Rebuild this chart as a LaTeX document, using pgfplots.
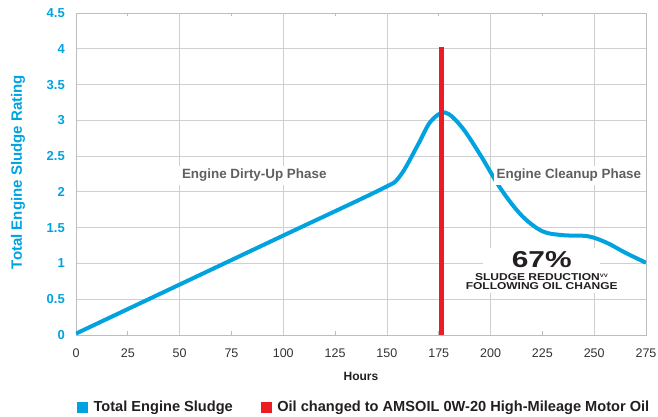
\documentclass[border=0pt]{standalone}
\usepackage{pgfplots}
\pgfplotsset{compat=1.18}
\usepackage{fontspec}
\setmainfont{Liberation Sans}
\definecolor{cyanc}{HTML}{00A3E0}
\definecolor{redc}{HTML}{ED1C24}
\definecolor{gridc}{HTML}{CFCFCF}
\definecolor{axisc}{HTML}{BDBDBD}
\definecolor{phasec}{HTML}{606060}
\definecolor{tickc}{HTML}{333333}
\definecolor{darkc}{HTML}{231F20}
\pgfplotstableread{
x y
0 0.02
50 0.705
100 1.39
146.7 2.03
156 2.21
165 2.66
171 2.98
178 3.11
186 2.91
195 2.52
205 2.04
215 1.67
225 1.45
235 1.395
247 1.38
256 1.29
265 1.15
275 1.01
}\sludge
\begin{document}
\begin{tikzpicture}
\useasboundingbox (-76pt,-82pt) rectangle (582pt,335pt);
\begin{axis}[
  scale only axis, width=570pt, height=322pt,
  xmin=0, xmax=275, ymin=0, ymax=4.5,
  axis line style={axisc, line width=0.8pt},
  xtick={0,25,...,275},
  ytick={0,0.5,...,4.5},
  yticklabels={0,0.5,1,1.5,2,2.5,3,3.5,4,4.5},
  xticklabels={0,25,50,75,100,125,150,175,200,225,250,275},
  extra x ticks={50,100,150,200,250},
  extra x tick labels={},
  extra x tick style={grid=major, major tick length=0pt},
  ymajorgrids,
  grid style={gridc, line width=0.8pt},
  tick align=inside,
  major tick length=3.5pt,
  xtick style={axisc, line width=0.8pt},
  ytick style={draw=none},
  /pgf/number format/assume math mode=true,
  yticklabel style={font=\bfseries\fontsize{13}{13}\selectfont, text=cyanc, inner sep=0pt, xshift=-11pt},
  xticklabel style={font=\fontsize{12.5}{12.5}\selectfont, text=tickc, inner sep=0pt, yshift=-13.5pt},
  xlabel={Hours},
  xlabel style={font=\bfseries\fontsize{12}{12}\selectfont, text=darkc, at={(axis description cs:0.5,-0.128)}, anchor=center},
  ylabel={Total Engine Sludge Rating},
  ylabel style={font=\bfseries\fontsize{15}{15}\selectfont, text=cyanc, at={(axis description cs:-0.1018,0.506)}, anchor=center},
  legend style={draw=none, fill=none, legend columns=2, at={(axis description cs:-0.0035,-0.2236)}, anchor=west,
    font=\bfseries\fontsize{14.6}{14.6}\selectfont, text=darkc,
    /tikz/every even column/.append style={column sep=26pt}},
  legend cell align=left,
  clip=true,
]
\addlegendimage{legend image code/.code={\fill[cyanc] (0pt,-5pt) rectangle (10pt,5pt); \path (14pt,0pt);}}
\addlegendentry{Total Engine Sludge}
\addlegendimage{legend image code/.code={\fill[redc] (0pt,-5pt) rectangle (10pt,5pt); \path (14pt,0pt);}}
\addlegendentry{Oil changed to AMSOIL 0W-20 High-Mileage Motor Oil}
\addplot[cyanc, line width=4pt, smooth, tension=0.55, forget plot] table[x=x,y=y] {\sludge};
\addplot[redc, line width=5pt, forget plot] coordinates {(176.1,0) (176.1,4.02)};
\node[fill=white, text=phasec, font=\bfseries\fontsize{13.4}{13.4}\selectfont, inner sep=3pt] at (axis cs:86,2.23) {Engine Dirty-Up Phase};
\node[fill=white, text=phasec, font=\bfseries\fontsize{13.4}{13.4}\selectfont, inner sep=3pt] at (axis cs:237.8,2.23) {Engine Cleanup Phase};
\fill[white] (axis cs:196.3,0.59) rectangle (axis cs:252.8,1.215);
\node[text=darkc, font=\bfseries\fontsize{23}{23}\selectfont, inner sep=0pt] at (axis cs:224.7,1.05) {\scalebox{1.3}[1]{67\%}};
\node[text=darkc, font=\bfseries\fontsize{10}{10}\selectfont, inner sep=0pt] at (axis cs:224.7,0.805) {\scalebox{1.2}[1]{SLUDGE REDUCTION\textsuperscript{\fontsize{5}{5}\selectfont VV}}};
\node[text=darkc, font=\bfseries\fontsize{10}{10}\selectfont, inner sep=0pt] at (axis cs:224.7,0.685) {\scalebox{1.2}[1]{FOLLOWING OIL CHANGE}};
\end{axis}
\end{tikzpicture}
\end{document}
